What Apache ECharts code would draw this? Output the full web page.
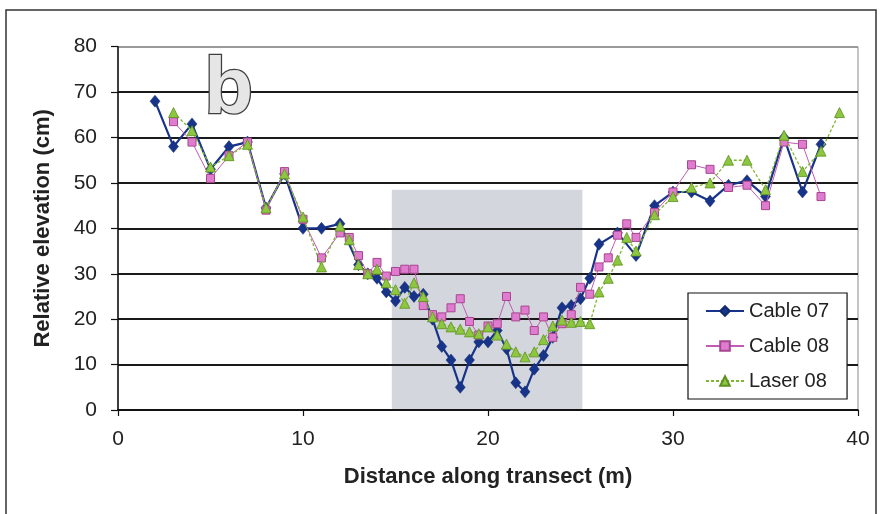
<!DOCTYPE html>
<html>
<head>
<meta charset="utf-8">
<script src="https://cdn.jsdelivr.net/npm/echarts@6/dist/echarts.min.js"></script>
<style>
html,body{margin:0;padding:0;background:#fff;}
#chart{width:880px;height:514px;}
</style>
</head>
<body>
<div id="chart"></div>
<script>
// ---- data ----
const seriesNames = ['Cable 07', 'Cable 08', 'Laser 08'];

const cable07X = [2,3,4,5,6,7,8,9,10,11,12,13,
  13.5,14,14.5,15,15.5,16,16.5,17,17.5,18,18.5,19,19.5,20,20.5,21,21.5,22,22.5,23,23.5,24,24.5,25,25.5,26,
  27,28,29,30,31,32,33,34,35,36,37,38];
const cable07Y = [68,58,63,53,58,59,44.5,52,40,40,41,32,
  30,29,26,24,27,25,25.5,20,14,11,5,11,15,15,17.5,13.5,6,4,9,12,16,22.5,23,24.5,29,36.5,
  39,34,45,48,48,46,49.5,50.5,47,60,48,58.5];

const cable08X = [3,4,5,6,7,8,9,10,11,12,
  12.5,13,13.5,14,14.5,15,15.5,16,16.5,17,17.5,18,18.5,19,19.5,20,20.5,21,21.5,22,22.5,23,23.5,24,24.5,25,25.5,26,26.5,27,27.5,28,
  29,30,31,32,33,34,35,36,37,38];
const cable08Y = [63.5,59,51,56,59,44,52.5,42,33.5,39,
  38,34,30,32.5,29.5,30.5,31,31,23,21,20.5,22.5,24.5,19.5,16.5,18.5,19,25,20.5,22,17.5,20.5,16,19,21,27,25.5,31.5,33.5,38.5,41,38,
  43.5,48,54,53,49,49.5,45,59,58.5,47];

const laser08X = [3,4,5,6,7,8,9,10,11,12,
  12.5,13,13.5,14,14.5,15,15.5,16,16.5,17,17.5,18,18.5,19,19.5,20,20.5,21,21.5,22,22.5,23,23.5,24,24.5,25,25.5,26,26.5,27,27.5,28,
  29,30,31,32,33,34,35,36,37,38,39];
const laser08Y = [65.5,61.5,53.5,56,58.5,44.5,52,42.5,31.5,40.5,
  37.5,32,30,31,28,26.5,23.5,28,25,20.5,19,18.3,17.8,17.2,16.8,18.3,16.5,14.5,12.8,11.7,12.8,15.5,18.5,19.8,19.3,19.5,19,26,29,33,38,35,
  43,47,49,50,55,55,48.5,60.5,52.5,57,65.5];

const xTicks = [0, 10, 20, 30, 40];
const yTicks = [0, 10, 20, 30, 40, 50, 60, 70, 80];
const shadeXRange = [14.8, 25.1];
const shadeYRange = [0, 48.5];
const panelLetter = 'b';

// ---- chart ----
const zip = (xs, ys) => xs.map((x, i) => [x, ys[i]]);
const FONT = "'Liberation Sans', Arial, sans-serif";
const chart = echarts.init(document.getElementById('chart'), null, {renderer: 'canvas'});

const gridColors = yTicks.map((v, i) => i === yTicks.length - 1 ? '#9a9a9a' : '#1a1a1a');

chart.setOption({
  animation: false,
  backgroundColor: '#fff',
  grid: {left: 118, right: 22, top: 46.7, bottom: 104, show: true, borderColor: '#8a8a8a', borderWidth: 1, backgroundColor: 'transparent', z: 0},
  xAxis: {
    type: 'value', min: xTicks[0], max: xTicks[xTicks.length - 1], interval: 10, z: 2,
    name: 'Distance along transect (m)', nameLocation: 'middle', nameGap: 56,
    nameTextStyle: {fontFamily: FONT, fontSize: 22, fontWeight: 'bold', color: '#222'},
    axisLine: {show: true, onZero: false, lineStyle: {color: '#111', width: 1.5}},
    axisTick: {show: true, length: 6, lineStyle: {color: '#111', width: 1.2}},
    axisLabel: {fontFamily: FONT, fontSize: 21, color: '#222', margin: 19},
    splitLine: {show: false}
  },
  yAxis: {
    type: 'value', min: yTicks[0], max: yTicks[yTicks.length - 1], interval: 10, z: 2,
    name: 'Relative elevation (cm)', nameLocation: 'middle', nameGap: 64,
    nameTextStyle: {fontFamily: FONT, fontSize: 22, fontWeight: 'bold', color: '#222'},
    axisLine: {show: true, lineStyle: {color: '#111', width: 1.5}},
    axisTick: {show: true, length: 7, lineStyle: {color: '#111', width: 1.2}},
    axisLabel: {fontFamily: FONT, fontSize: 21, color: '#222', margin: 21},
    splitLine: {show: true, lineStyle: {color: gridColors, width: 1.8}}
  },
  legend: {
    data: seriesNames,
    orient: 'vertical', left: 688, top: 293, z: 10,
    padding: [7, 18, 7, 17], itemGap: 13, itemWidth: 38, itemHeight: 12,
    backgroundColor: '#fff', borderColor: '#111', borderWidth: 1.2,
    textStyle: {fontFamily: FONT, fontSize: 20, color: '#222', lineHeight: 22}
  },
  graphic: [
    {type: 'rect', z: 10, silent: true, shape: {x: 6, y: 10, width: 870, height: 520},
     style: {fill: 'none', stroke: '#333', lineWidth: 1.5}},
    {type: 'text', z: 10, left: 203, top: 50, silent: true,
     style: {text: panelLetter, font: "bold 80px 'Liberation Sans', Arial, sans-serif",
       fill: '#e6e6e6', stroke: '#3f3f3f', lineWidth: 2.6,
       shadowColor: 'rgba(0,0,0,0.25)', shadowBlur: 2, shadowOffsetX: 2, shadowOffsetY: 2}}
  ],
  series: [
    {
      name: '__shade', type: 'line', data: [], z: 1, silent: true,
      markArea: {silent: true, itemStyle: {color: '#d3d6dd'},
        data: [[{coord: [shadeXRange[0], shadeYRange[0]]}, {coord: [shadeXRange[1], shadeYRange[1]]}]]}
    },
    {
      name: seriesNames[0], type: 'line', data: zip(cable07X, cable07Y), z: 3,
      symbol: 'diamond', symbolSize: [10, 12],
      lineStyle: {color: '#17348a', width: 2.2},
      itemStyle: {color: '#17348a', borderColor: '#102c6a', borderWidth: 0.5}
    },
    {
      name: seriesNames[1], type: 'line', data: zip(cable08X, cable08Y), z: 4,
      symbol: 'rect', symbolSize: 8,
      lineStyle: {color: '#c25bb3', width: 1},
      itemStyle: {color: '#e07ccf', borderColor: '#a8458f', borderWidth: 1}
    },
    {
      name: seriesNames[2], type: 'line', data: zip(laser08X, laser08Y), z: 5,
      symbol: 'triangle', symbolSize: 10,
      lineStyle: {color: '#7fb630', width: 1.3, type: [3, 2]},
      itemStyle: {color: '#8dc63f', borderColor: '#5e9020', borderWidth: 0.8}
    }
  ]
});
</script>
</body>
</html>
